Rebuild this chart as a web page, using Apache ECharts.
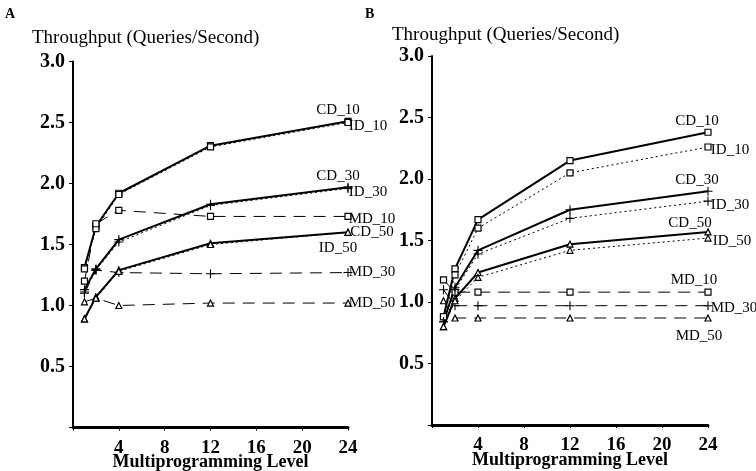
<!DOCTYPE html>
<html>
<head>
<meta charset="utf-8">
<script src="https://cdn.jsdelivr.net/npm/echarts@6/dist/echarts.min.js"></script>
<style>
  html, body { margin: 0; background: #fff; }
  #main { width: 756px; height: 471px; }
</style>
</head>
<body>
<div id="main"></div>
<script>
// multiprogramming levels
var mpl = [1, 2, 4, 12, 24];

// panel A
var aCD10 = [1.31, 1.65, 1.92, 2.31, 2.51];
var aID10 = [1.30, 1.63, 1.91, 2.30, 2.50];
var aMD10 = [1.20, 1.67, 1.78, 1.73, 1.73];
var aCD30 = [1.13, 1.30, 1.54, 1.83, 1.97];
var aID30 = [1.11, 1.29, 1.52, 1.82, 1.96];
var aMD30 = [1.10, 1.29, 1.27, 1.26, 1.27];
var aCD50 = [0.89, 1.07, 1.29, 1.51, 1.60];
var aID50 = [0.89, 1.06, 1.28, 1.50, 1.60];
var aMD50 = [1.03, 1.06, 1.00, 1.02, 1.02];

// panel B
var bCD10 = [0.88, 1.27, 1.67, 2.15, 2.38];
var bID10 = [0.88, 1.22, 1.60, 2.05, 2.26];
var bMD10 = [1.18, 1.08, 1.08, 1.08, 1.08];
var bCD30 = [0.84, 1.12, 1.42, 1.75, 1.90];
var bID30 = [0.84, 1.10, 1.39, 1.68, 1.82];
var bMD30 = [1.10, 0.97, 0.97, 0.97, 0.97];
var bCD50 = [0.80, 1.03, 1.24, 1.47, 1.57];
var bID50 = [0.80, 1.01, 1.20, 1.42, 1.52];
var bMD50 = [1.01, 0.87, 0.87, 0.87, 0.87];

var xTickLabels = ['4', '8', '12', '16', '20', '24'];
var yTickLabels = ['0.5', '1.0', '1.5', '2.0', '2.5', '3.0'];

var serif = 'Liberation Serif';
var plus = 'path://M4.4,0h1.2v4.4h4.4v1.2h-4.4v4.4h-1.2v-4.4h-4.4v-1.2h4.4z';

function mk(name, vals, idx, sym, dash, off) {
  var data = mpl.map(function (x, i) { return [x, vals[i]]; });
  var last = data.length - 1;
  data[last] = {
    value: data[last],
    label: {
      show: true, formatter: name, position: 'inside', offset: off,
      color: '#000', fontFamily: serif, fontSize: 15
    }
  };
  return {
    type: 'line', name: name,
    xAxisIndex: idx, yAxisIndex: idx,
    data: data,
    symbol: sym, symbolSize: sym === plus ? 9 : 6,
    showAllSymbol: true,
    lineStyle: {
      color: '#000',
      width: dash === 'solid' ? 2 : 1,
      type: dash === 'dash' ? [12, 8] : (dash === 'dot' ? [2, 3] : 'solid')
    },
    itemStyle: { color: sym === plus ? '#000' : '#fff', borderColor: '#000', borderWidth: sym === plus ? 0 : 1.2 },
    emphasis: { disabled: true }
  };
}

function xAx(idx) {
  return {
    type: 'value', gridIndex: idx, position: 'bottom', min: 0, max: 24, interval: 4,
    name: 'Multiprogramming Level', nameLocation: 'middle', nameGap: 26,
    nameMoveOverlap: false,
    nameTextStyle: { fontFamily: serif, fontWeight: 'bold', fontSize: 18, color: '#000' },
    axisLine: { show: true, onZero: false, lineStyle: { color: '#000', width: 3 } },
    axisTick: { show: true, length: 3, lineStyle: { color: '#000' } },
    axisLabel: {
      margin: 11, color: '#000', fontFamily: serif, fontWeight: 'bold', fontSize: 19,
      formatter: function (v) { return v === 0 ? '' : xTickLabels[v / 4 - 1]; }
    },
    splitLine: { show: false }
  };
}

function yAx(idx) {
  return {
    type: 'value', gridIndex: idx, min: 0, max: 3, interval: 0.5,
    axisLine: { show: true, onZero: false, lineStyle: { color: '#000', width: 2 } },
    axisTick: { show: true, length: 4, lineStyle: { color: '#000' } },
    axisLabel: {
      margin: 8, color: '#000', fontFamily: serif, fontWeight: 'bold', fontSize: 20,
      formatter: function (v) { return v === 0 ? '' : yTickLabels[Math.round(v / 0.5) - 1]; }
    },
    splitLine: { show: false }
  };
}

var myChart = echarts.init(document.getElementById('main'));
var option = {
  animation: false,
  backgroundColor: '#fff',
  grid: [
    { left: 73, top: 61.5, width: 275, height: 366, outerBoundsMode: 'none', containLabel: false },
    { left: 432, top: 56, width: 276, height: 369, outerBoundsMode: 'none', containLabel: false }
  ],
  xAxis: [xAx(0), xAx(1)],
  yAxis: [yAx(0), yAx(1)],
  graphic: [
    { type: 'text', left: 5, top: 7, style: { text: 'A', fontFamily: serif, fontWeight: 'bold', fontSize: 14, fill: '#000' } },
    { type: 'text', left: 365, top: 7, style: { text: 'B', fontFamily: serif, fontWeight: 'bold', fontSize: 14, fill: '#000' } },
    { type: 'text', left: 32, top: 29, style: { text: 'Throughput (Queries/Second)', fontFamily: serif, fontSize: 19, fill: '#000' } },
    { type: 'text', left: 392, top: 26, style: { text: 'Throughput (Queries/Second)', fontFamily: serif, fontSize: 19, fill: '#000' } }
  ],
  series: [
    mk('CD_10', aCD10, 0, 'rect', 'solid', [-10, -11]),
    mk('ID_10', aID10, 0, 'rect', 'dot', [20, 4]),
    mk('MD_10', aMD10, 0, 'rect', 'dash', [24, 3]),
    mk('CD_30', aCD30, 0, plus, 'solid', [-10, -11]),
    mk('ID_30', aID30, 0, plus, 'dot', [20, 4]),
    mk('MD_30', aMD30, 0, plus, 'dash', [24, 0]),
    mk('CD_50', aCD50, 0, 'triangle', 'solid', [24, 0]),
    mk('ID_50', aID50, 0, 'triangle', 'dot', [-10, 16]),
    mk('MD_50', aMD50, 0, 'triangle', 'dash', [24, 0]),

    mk('CD_10', bCD10, 1, 'rect', 'solid', [-11, -11]),
    mk('ID_10', bID10, 1, 'rect', 'dot', [22, 3]),
    mk('MD_10', bMD10, 1, 'rect', 'dash', [-14, -12]),
    mk('CD_30', bCD30, 1, plus, 'solid', [-11, -11]),
    mk('ID_30', bID30, 1, plus, 'dot', [22, 4]),
    mk('MD_30', bMD30, 1, plus, 'dash', [26, 2]),
    mk('CD_50', bCD50, 1, 'triangle', 'solid', [-18, -9]),
    mk('ID_50', bID50, 1, 'triangle', 'dot', [24, 3]),
    mk('MD_50', bMD50, 1, 'triangle', 'dash', [-9, 18])
  ]
};
option && myChart.setOption(option);
</script>
</body>
</html>
